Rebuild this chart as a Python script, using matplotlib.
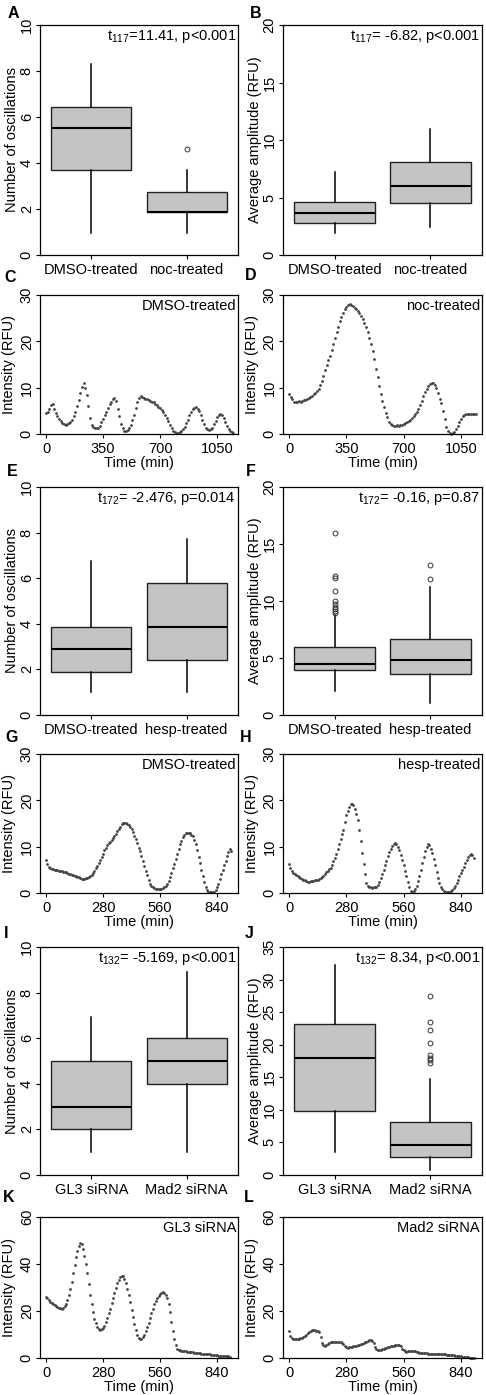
import numpy as np
import matplotlib.pyplot as plt

plt.rcParams['font.family'] = ['Liberation Sans', 'DejaVu Sans']
plt.rcParams['mathtext.fontset'] = 'custom'
plt.rcParams['mathtext.rm'] = 'Liberation Sans'
plt.rcParams['mathtext.it'] = 'Liberation Sans:italic'
plt.rcParams['mathtext.default'] = 'regular'

# ------------------------------------------------------------
# Box plot summaries (q1, median, q3, whisker low/high, outliers)
# ------------------------------------------------------------
a_labels = ['DMSO-treated', 'noc-treated']
a_q1, a_med, a_q3 = [3.68, 1.86], [5.54, 1.86], [6.45, 2.75]
a_lo, a_hi = [0.95, 0.95], [8.29, 3.70]
a_out = [[], [4.6]]

b_labels = ['DMSO-treated', 'noc-treated']
b_q1, b_med, b_q3 = [2.75, 4.49], [3.62, 6.03], [4.58, 8.06]
b_lo, b_hi = [1.94, 2.46], [7.25, 11.0]
b_out = [[], []]

e_labels = ['DMSO-treated', 'hesp-treated']
e_q1, e_med, e_q3 = [1.90, 2.41], [2.88, 3.85], [3.87, 5.80]
e_lo, e_hi = [1.0, 1.0], [6.75, 7.70]
e_out = [[], []]

f_labels = ['DMSO-treated', 'hesp-treated']
f_q1, f_med, f_q3 = [3.95, 3.57], [4.47, 4.82], [5.94, 6.70]
f_lo, f_hi = [2.10, 1.08], [8.80, 11.25]
f_out = [[16.0, 12.15, 12.0, 10.85, 10.0, 9.75, 9.5, 9.3, 9.1, 8.95], [13.2, 11.9]]

i_labels = ['GL3 siRNA', 'Mad2 siRNA']
i_q1, i_med, i_q3 = [2.0, 4.0], [3.0, 5.0], [5.0, 6.0]
i_lo, i_hi = [1.0, 1.0], [6.95, 8.9]
i_out = [[], []]

j_labels = ['GL3 siRNA', 'Mad2 siRNA']
j_q1, j_med, j_q3 = [9.9, 2.8], [18.0, 4.6], [23.2, 8.2]
j_lo, j_hi = [3.5, 0.8], [32.2, 14.8]
j_out = [[], [27.5, 23.5, 22.3, 20.2, 18.4, 18.0, 17.6, 17.2]]

# ------------------------------------------------------------
# Single-cell intensity traces (RFU)
# ------------------------------------------------------------
c_step = 10   # min between frames, panels C/D
c_vals = [4.6, 4.8, 5.5, 6.3, 6.5, 5.5, 4.5, 3.8, 3.2, 2.7,
          2.3, 2.1, 2.0, 2.1, 2.3, 2.6, 3.1, 3.8, 4.8, 6.0,
          7.4, 8.8, 10.2, 11.0, 10.0, 8.5, 6.0, 3.5, 2.0, 1.5,
          1.3, 1.2, 1.4, 1.8, 2.5, 3.2, 4.0, 4.8, 5.6, 6.4,
          7.0, 7.5, 7.7, 7.2, 5.5, 3.8, 2.2, 1.2, 0.7, 0.6,
          0.8, 1.3, 2.0, 3.0, 4.2, 5.6, 6.8, 7.8, 8.1, 8.0,
          7.8, 7.6, 7.5, 7.4, 7.2, 7.0, 6.8, 6.5, 6.2, 5.9,
          5.6, 5.2, 4.7, 4.2, 3.5, 2.8, 2.0, 1.3, 0.7, 0.4,
          0.2, 0.2, 0.4, 0.6, 1.0, 1.6, 2.3, 3.1, 4.0, 4.8,
          5.4, 5.7, 5.8, 5.5, 4.9, 4.0, 3.0, 2.1, 1.4, 1.0,
          0.9, 1.0, 1.4, 2.1, 2.9, 3.6, 4.1, 4.3, 4.1, 3.5,
          2.6, 1.7, 1.1, 0.7, 0.5, 0.3]
d_vals = [8.6, 8.0, 7.5, 7.0, 6.9, 7.0, 7.1, 7.0, 7.2, 7.3,
          7.4, 7.6, 7.8, 8.0, 8.3, 8.6, 8.9, 9.2, 9.8, 10.5,
          11.4, 12.5, 13.8, 15.0, 16.0, 16.8, 18.2, 19.5, 20.8, 22.0,
          23.2, 24.3, 25.3, 26.2, 26.9, 27.4, 27.8, 28.0, 27.8, 27.6,
          27.3, 27.0, 26.6, 26.1, 25.5, 24.8, 24.0, 23.2, 22.0, 20.7,
          19.5, 18.0, 16.2, 14.0, 12.2, 10.4, 8.6, 7.2, 5.8, 4.6,
          3.6, 2.6, 2.1, 1.9, 1.8, 1.8, 1.9, 1.8, 1.9, 2.0,
          2.1, 2.3, 2.5, 2.7, 3.0, 3.4, 3.8, 4.3, 4.8, 5.5,
          6.3, 7.2, 8.1, 9.0, 9.8, 10.4, 10.8, 11.0, 10.9, 10.5,
          9.9, 8.9, 7.6, 6.6, 5.0, 3.2, 1.6, 0.6, 0.2, 0.1,
          0.2, 0.5, 1.0, 1.7, 2.5, 3.2, 3.8, 4.2, 4.4, 4.4,
          4.4, 4.3, 4.4, 4.4, 4.4]

g_step = 7    # min between frames, panels G/H/K/L
g_vals = [7.1, 6.3, 5.6, 5.3, 5.2, 5.1, 5.0, 4.9, 4.9, 4.8,
          4.7, 4.7, 4.6, 4.5, 4.5, 4.3, 4.2, 4.0, 3.9, 3.8,
          3.7, 3.6, 3.5, 3.4, 3.2, 3.1, 3.0, 3.1, 3.2, 3.3,
          3.5, 3.7, 3.9, 4.3, 4.8, 5.3, 5.8, 6.4, 7.1, 7.8,
          8.5, 9.2, 9.8, 10.3, 10.7, 11.1, 11.5, 11.9, 12.3, 12.8,
          13.3, 13.8, 14.3, 14.8, 15.1, 15.2, 15.1, 14.9, 14.6, 14.3,
          13.9, 13.2, 12.4, 11.6, 10.7, 9.8, 9.0, 7.9, 6.8, 5.8,
          4.7, 3.8, 2.8, 2.0, 1.5, 1.2, 1.0, 0.9, 0.8, 0.8,
          0.8, 0.9, 1.0, 1.2, 1.5, 1.9, 2.6, 3.4, 4.3, 5.3,
          6.3, 7.4, 8.5, 9.6, 10.6, 11.3, 12.0, 12.5, 12.9, 13.0,
          13.0, 12.9, 12.6, 12.2, 11.5, 10.5, 9.3, 7.8, 6.4, 5.0,
          3.6, 2.4, 1.4, 0.6, 0.3, 0.3, 0.2, 0.3, 0.2, 0.6,
          1.2, 2.0, 3.0, 4.0, 5.0, 6.0, 7.0, 8.0, 8.8, 9.4,
          9.0]
h_vals = [6.3, 5.5, 4.8, 4.4, 4.1, 3.8, 3.6, 3.4, 3.2, 3.1,
          2.9, 2.7, 2.5, 2.4, 2.4, 2.5, 2.5, 2.6, 2.7, 2.8,
          2.9, 3.0, 3.2, 3.4, 3.7, 4.1, 4.5, 4.8, 5.1, 5.5,
          6.1, 6.8, 7.6, 8.4, 9.4, 10.5, 11.6, 12.7, 13.7, 15.4,
          16.8, 17.8, 18.6, 19.2, 19.3, 19.0, 18.2, 17.1, 15.8, 13.6,
          11.3, 8.6, 6.2, 4.1, 2.2, 1.6, 1.3, 1.2, 1.1, 1.2,
          1.2, 1.4, 1.8, 2.4, 3.2, 4.1, 5.0, 6.0, 7.0, 7.9,
          8.8, 9.6, 10.2, 10.6, 10.7, 10.5, 10.0, 9.2, 8.2, 7.1,
          6.0, 4.8, 3.6, 2.4, 1.2, 0.5, 0.3, 0.4, 0.8, 1.5,
          2.5, 3.7, 5.0, 6.4, 7.8, 9.0, 10.0, 10.5, 10.3, 9.6,
          8.6, 7.4, 6.0, 4.6, 3.3, 2.2, 1.4, 0.8, 0.4, 0.3,
          0.2, 0.2, 0.3, 0.4, 0.7, 1.1, 1.6, 2.2, 2.9, 3.6,
          4.3, 5.0, 5.7, 6.4, 7.1, 7.7, 8.2, 8.5, 8.3, 7.6]
k_vals = [26.0, 25.5, 24.8, 24.0, 23.5, 23.0, 22.5, 22.0, 21.7, 21.4,
          21.2, 21.0, 21.4, 22.0, 22.8, 24.5, 26.8, 29.5, 32.5, 36.0,
          39.5, 43.0, 45.5, 47.5, 49.0, 48.5, 46.5, 43.5, 40.0, 36.0,
          31.5, 27.0, 23.0, 19.5, 16.8, 14.8, 13.3, 12.4, 12.0, 12.2,
          12.8, 13.8, 15.2, 17.0, 19.0, 21.0, 23.2, 25.5, 27.8, 30.0,
          31.8, 33.2, 34.3, 35.0, 34.8, 33.8, 32.0, 29.5, 26.8, 23.8,
          20.5, 17.3, 14.5, 12.0, 10.0, 8.6, 8.0, 8.2, 8.8, 10.0,
          11.5, 13.2, 15.0, 17.0, 19.0, 21.0, 22.8, 24.3, 25.5, 26.5,
          27.3, 27.8, 28.0, 27.8, 27.0, 25.5, 23.0, 19.5, 15.5, 11.5,
          8.0, 5.5, 4.0, 3.4, 3.2, 3.0, 2.9, 2.8, 2.8, 2.7,
          2.6, 2.5, 2.5, 2.4, 2.3, 2.2, 2.1, 2.0, 2.0, 1.9,
          1.8, 1.8, 1.7, 1.6, 1.5, 1.5, 1.4, 1.3, 1.3, 1.2,
          1.1, 1.0, 1.0, 0.9, 0.9, 0.8, 0.8, 0.7, 0.7, 0.6]
l_vals = [11.5, 9.5, 8.5, 8.2, 8.0, 8.1, 8.0, 8.2, 8.3, 8.5,
          8.8, 9.2, 9.8, 10.5, 11.2, 11.6, 11.8, 12.0, 11.9, 11.7,
          11.5, 11.0, 9.0, 6.5, 5.5, 5.3, 5.5, 6.0, 6.4, 6.6,
          6.8, 6.8, 6.9, 6.8, 6.9, 7.0, 6.8, 6.5, 5.8, 5.0,
          4.6, 4.4, 4.5, 4.6, 4.7, 4.9, 5.0, 5.2, 5.4, 5.6,
          5.8, 6.0, 6.3, 6.6, 6.9, 7.2, 7.5, 7.6, 7.4, 6.5,
          4.8, 3.8, 3.5, 3.4, 3.5, 3.7, 3.9, 4.1, 4.3, 4.5,
          4.7, 4.9, 5.1, 5.3, 5.5, 5.6, 5.6, 5.5, 5.0, 4.0,
          3.2, 2.8, 2.7, 2.8, 2.9, 3.0, 3.0, 3.0, 2.9, 2.7,
          2.5, 2.3, 2.2, 2.1, 2.0, 2.0, 2.0, 1.9, 1.9, 1.9,
          1.8, 1.8, 1.8, 1.7, 1.7, 1.7, 1.6, 1.6, 1.5, 1.5,
          1.4, 1.4, 1.3, 1.3, 1.2, 1.1, 1.0, 0.9, 0.9, 0.8,
          0.7, 0.6, 0.5, 0.4, 0.3, 0.3, 0.2, 0.2, 0.1, 0.1]

W, H = 486, 1395
fig = plt.figure(figsize=(W / 100, H / 100), dpi=100)
FS = 10.5
BOX_FC = '#c4c4c4'
DOT_C = '#444444'


def add_ax(l, t, r, b):
    return fig.add_axes([l / W, 1 - b / H, (r - l) / W, (b - t) / H])


def style(ax, ylabel, yticks, ylim, label_dx):
    for s in ax.spines.values():
        s.set_linewidth(0.9)
        s.set_color('black')
    ax.set_ylim(*ylim)
    ax.set_yticks(yticks)
    ax.tick_params(direction='out', length=3, width=0.8, labelsize=FS, pad=1.5)
    for lab in ax.get_yticklabels():
        lab.set_rotation(90)
        lab.set_va('center')
    ax.set_ylabel(ylabel, fontsize=FS)
    # label_dx = pixel offset of the label's right edge from the left spine
    ax.yaxis.set_label_coords(label_dx / ax.bbox.width, 0.5)


def boxpanel(ax, labels, q1, med, q3, lo, hi, out, ylabel, yticks, ylim, note):
    stats = [dict(q1=q1[i], med=med[i], q3=q3[i], whislo=lo[i], whishi=hi[i],
                  fliers=out[i], label=labels[i]) for i in range(len(labels))]
    ax.bxp(stats, positions=[1, 2], widths=0.84, patch_artist=True, showcaps=False,
           boxprops=dict(facecolor=BOX_FC, edgecolor='#222222', linewidth=1.0),
           medianprops=dict(color='black', linewidth=1.5),
           whiskerprops=dict(color='black', linewidth=1.1, linestyle='-'),
           flierprops=dict(marker='o', markersize=3.5, markerfacecolor='none',
                           markeredgecolor='#333333', markeredgewidth=0.7))
    ax.set_xlim(0.46, 2.54)
    style(ax, ylabel, yticks, ylim, -21)
    ax.tick_params(axis='x', pad=3)
    ax.text(0.99, 0.985, note, transform=ax.transAxes, ha='right', va='top', fontsize=FS)


def tracepanel(ax, vals, step, xticks, xlim, ylim, yticks, name):
    t = np.arange(len(vals)) * step
    ax.plot(t, vals, 'o', markersize=2.0, color=DOT_C, markeredgewidth=0, clip_on=False)
    ax.set_xlim(*xlim)
    ax.set_xticks(xticks)
    style(ax, 'Intensity (RFU)', yticks, ylim, -24)
    ax.tick_params(axis='x', pad=2.5)
    ax.set_xlabel('Time (min)', fontsize=FS, labelpad=0)
    ax.text(0.99, 0.97, name, transform=ax.transAxes, ha='right', va='top', fontsize=FS)


axA = add_ax(40, 25, 238, 255)
axB = add_ax(283, 25, 482, 255)
axC = add_ax(40, 295, 238, 434)
axD = add_ax(283, 295, 482, 434)
axE = add_ax(40, 487, 238, 715)
axF = add_ax(283, 487, 482, 715)
axG = add_ax(40, 754, 238, 893)
axH = add_ax(283, 754, 482, 893)
axI = add_ax(40, 947, 238, 1175)
axJ = add_ax(283, 947, 482, 1175)
axK = add_ax(40, 1217, 238, 1358)
axL = add_ax(283, 1217, 482, 1358)

boxpanel(axA, a_labels, a_q1, a_med, a_q3, a_lo, a_hi, a_out,
         'Number of oscillations', range(0, 11, 2), (0, 10), r't$_{117}$=11.41, p<0.001')
boxpanel(axB, b_labels, b_q1, b_med, b_q3, b_lo, b_hi, b_out,
         'Average amplitude (RFU)', range(0, 21, 5), (0, 20), r't$_{117}$= -6.82, p<0.001')
boxpanel(axE, e_labels, e_q1, e_med, e_q3, e_lo, e_hi, e_out,
         'Number of oscillations', range(0, 11, 2), (0, 10), r't$_{172}$= -2.476, p=0.014')
boxpanel(axF, f_labels, f_q1, f_med, f_q3, f_lo, f_hi, f_out,
         'Average amplitude (RFU)', range(0, 21, 5), (0, 20), r't$_{172}$= -0.16, p=0.87')
boxpanel(axI, i_labels, i_q1, i_med, i_q3, i_lo, i_hi, i_out,
         'Number of oscillations', range(0, 11, 2), (0, 10), r't$_{132}$= -5.169, p<0.001')
boxpanel(axJ, j_labels, j_q1, j_med, j_q3, j_lo, j_hi, j_out,
         'Average amplitude (RFU)', range(0, 36, 5), (0, 35), r't$_{132}$= 8.34, p<0.001')

tracepanel(axC, c_vals, c_step, [0, 350, 700, 1050], (-37, 1178), (0, 30), [0, 10, 20, 30], 'DMSO-treated')
tracepanel(axD, d_vals, c_step, [0, 350, 700, 1050], (-37, 1178), (0, 30), [0, 10, 20, 30], 'noc-treated')
tracepanel(axG, g_vals, g_step, [0, 280, 560, 840], (-29.5, 943), (0, 30), [0, 10, 20, 30], 'DMSO-treated')
tracepanel(axH, h_vals, g_step, [0, 280, 560, 840], (-29.5, 943), (0, 30), [0, 10, 20, 30], 'hesp-treated')
tracepanel(axK, k_vals, g_step, [0, 280, 560, 840], (-29.5, 943), (0, 60), [0, 20, 40, 60], 'GL3 siRNA')
tracepanel(axL, l_vals, g_step, [0, 280, 560, 840], (-29.5, 943), (0, 60), [0, 20, 40, 60], 'Mad2 siRNA')

# panel letters (figure pixel positions)
letters = [('A', 13, 13), ('B', 256, 13), ('C', 10, 277), ('D', 251, 276),
           ('E', 12, 472), ('F', 251, 471), ('G', 12, 738), ('H', 246, 738),
           ('I', 6, 933), ('J', 249, 933), ('K', 9, 1198), ('L', 249, 1198)]
for txt, x, y in letters:
    fig.text(x / W, 1 - y / H, txt, fontsize=11.5, fontweight='bold', ha='center', va='center')

fig.savefig('out.png', dpi=100)
